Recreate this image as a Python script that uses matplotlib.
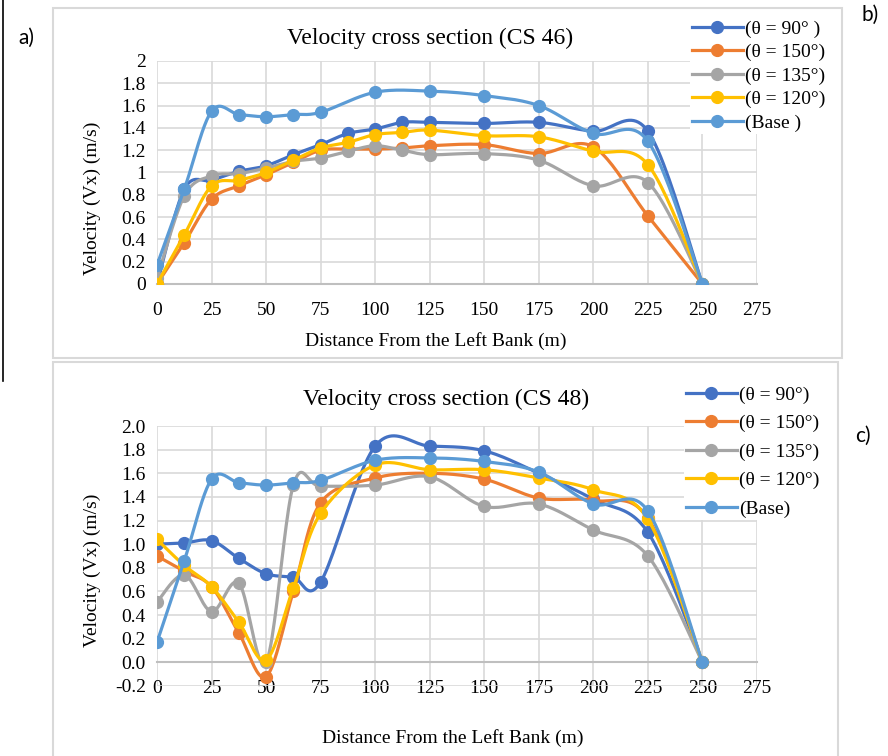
import numpy as np
import matplotlib
matplotlib.use("Agg")
import matplotlib.pyplot as plt
from matplotlib.patches import Rectangle
from matplotlib.lines import Line2D

# data
x_full = [0, 12.5, 25, 37.5, 50, 62.5, 75, 87.5, 100, 112.5, 125, 150, 175, 200, 225, 250]
x_base = [0, 12.5, 25, 37.5, 50, 62.5, 75, 100, 125, 150, 175, 200, 225, 250]

# CS 46
v90_46 = [0.0, 0.85, 0.93, 1.01, 1.06, 1.16, 1.25, 1.35, 1.39, 1.45, 1.45, 1.44, 1.45, 1.37, 1.37, 0.0]
v150_46 = [0.0, 0.37, 0.76, 0.88, 0.98, 1.09, 1.20, 1.21, 1.21, 1.22, 1.24, 1.25, 1.17, 1.23, 0.61, 0.0]
v135_46 = [0.05, 0.79, 0.97, 0.99, 1.04, 1.10, 1.13, 1.19, 1.24, 1.20, 1.16, 1.17, 1.11, 0.88, 0.91, 0.0]
v120_46 = [0.0, 0.44, 0.88, 0.93, 1.00, 1.11, 1.22, 1.27, 1.34, 1.36, 1.38, 1.33, 1.32, 1.19, 1.07, 0.0]
base_46 = [0.17, 0.85, 1.55, 1.52, 1.50, 1.52, 1.54, 1.72, 1.73, 1.69, 1.60, 1.35, 1.28, 0.0]

# CS 48
v90_48 = [1.00, 1.01, 1.03, 0.88, 0.75, 0.72, 0.68, 1.83, 1.83, 1.79, 1.60, 1.38, 1.10, 0.0]
v150_48 = [0.90, 0.77, 0.64, 0.25, -0.12, 0.60, 1.35, 1.56, 1.60, 1.55, 1.39, 1.37, 1.22, 0.0]
v135_48 = [0.51, 0.74, 0.43, 0.67, 0.0, 1.50, 1.49, 1.50, 1.57, 1.32, 1.34, 1.12, 0.90, 0.0]
v120_48 = [1.04, 0.82, 0.64, 0.34, 0.02, 0.63, 1.26, 1.67, 1.63, 1.63, 1.56, 1.46, 1.21, 0.0]
base_48 = [0.17, 0.86, 1.55, 1.52, 1.50, 1.52, 1.54, 1.71, 1.73, 1.70, 1.61, 1.34, 1.28, 0.0]

labels_46 = ["(θ = 90° )", "(θ = 150°)", "(θ = 135°)", "(θ = 120°)", "(Base )"]
labels_48 = ["(θ = 90°)", "(θ = 150°)", "(θ = 135°)", "(θ = 120°)", "(Base)"]
colors = ["#4472C4", "#ED7D31", "#A5A5A5", "#FFC000", "#5B9BD5"]

W, H = 888, 756
serif = ["Liberation Serif", "DejaVu Serif"]
plt.rcParams['font.family'] = serif


def smooth(x, y, sx, sy, n=24):
    # excel-like smoothed line (bezier through the points, in screen space)
    p = np.column_stack([np.asarray(x, float) * sx, np.asarray(y, float) * sy])
    ext = np.vstack([p[0], p, p[-1]])
    out = []
    t = np.linspace(0, 1, n)[:, None]
    for i in range(1, len(ext) - 2):
        p0, p1, p2, p3 = ext[i - 1], ext[i], ext[i + 1], ext[i + 2]
        c1 = p1 + (p2 - p0) / 6
        c2 = p2 - (p3 - p1) / 6
        seg = ((1 - t) ** 3) * p1 + 3 * ((1 - t) ** 2) * t * c1 + 3 * (1 - t) * t ** 2 * c2 + t ** 3 * p2
        out.append(seg if i == 1 else seg[1:])
    out = np.vstack(out)
    return out[:, 0] / sx, out[:, 1] / sy


def fig_rect(x0, y0, x1, y1):
    return [x0 / W, 1 - y1 / H, (x1 - x0) / W, (y1 - y0) / H]


fig = plt.figure(figsize=(W / 100, H / 100), dpi=100)

# panel frames
for (x0, y0, x1, y1) in [(53, 8, 842, 358), (53, 362, 838, 770)]:
    fig.patches.append(Rectangle((x0 / W, 1 - y1 / H), (x1 - x0) / W, (y1 - y0) / H,
                                 transform=fig.transFigure, fill=False,
                                 edgecolor="#D9D9D9", lw=1.5))
fig.lines.append(Line2D([3 / W, 3 / W], [1, 1 - 381 / H], transform=fig.transFigure,
                        color="black", lw=1.2))

panels = [
    dict(rect=fig_rect(157, 61, 757, 284), ylim=(0, 2), yticks=np.arange(0, 2.01, 0.2),
         fmt=lambda v: ("%g" % round(v, 1)), xs=[x_full, x_full, x_full, x_full, x_base],
         ys=[v90_46, v150_46, v135_46, v120_46, base_46], labels=labels_46,
         title="Velocity cross section (CS 46)", title_xy=(430, 38),
         xlabel_xy=(436, 341), ylabel_xy=(92, 198),
         leg_xy=(690, 18), leg_space=0.3),
    dict(rect=fig_rect(157, 426, 757, 686), ylim=(-0.2, 2.0), yticks=np.arange(-0.2, 2.01, 0.2),
         fmt=lambda v: "%.1f" % (round(v, 1) + 0.0), xs=[x_base] * 5,
         ys=[v90_48, v150_48, v135_48, v120_48, base_48], labels=labels_48,
         title="Velocity cross section (CS 48)", title_xy=(446, 399),
         xlabel_xy=(453, 738), ylabel_xy=(92, 570),
         leg_xy=(684, 384), leg_space=0.56),
]

for pn in panels:
    ax = fig.add_axes(pn["rect"])
    ax.set_xlim(0, 275)
    ax.set_ylim(*pn["ylim"])
    bbox = ax.get_position()
    sx = bbox.width * W / 275
    sy = bbox.height * H / (pn["ylim"][1] - pn["ylim"][0])
    for xv, yv, c, lab in zip(pn["xs"], pn["ys"], colors, pn["labels"]):
        xsm, ysm = smooth(xv, yv, sx, sy)
        ax.plot(xsm, ysm, color=c, lw=2.3, solid_capstyle="round", zorder=3)
        ax.plot(xv, yv, "o", color=c, ms=8.5, zorder=3)
        ax.plot([], [], "-o", color=c, lw=2.3, ms=8.5, label=lab)
    ax.set_xticks(np.arange(0, 276, 25))
    ax.set_yticks(pn["yticks"])
    ax.set_yticklabels([pn["fmt"](v) for v in pn["yticks"]])
    ax.grid(True, color="#D9D9D9", lw=1.2, zorder=0)
    ax.set_axisbelow(True)
    for s in ["top", "right", "left"]:
        ax.spines[s].set_visible(False)
    ax.spines["bottom"].set_position(("data", 0))
    ax.spines["bottom"].set_color("#BFBFBF")
    ax.spines["bottom"].set_linewidth(1.5)
    ax.tick_params(length=0, labelsize=14, pad=8)
    ax.tick_params(axis="x", pad=13)

    fig.text(pn["title_xy"][0] / W, 1 - pn["title_xy"][1] / H, pn["title"],
             ha="center", va="center", fontsize=17)
    fig.text(pn["xlabel_xy"][0] / W, 1 - pn["xlabel_xy"][1] / H,
             "Distance From the Left Bank (m)", ha="center", va="center", fontsize=14)
    fig.text(pn["ylabel_xy"][0] / W, 1 - pn["ylabel_xy"][1] / H,
             "Velocity (Vx) (m/s)", ha="center", va="center", fontsize=14, rotation=90)

    leg = ax.legend(loc="upper left",
                    bbox_to_anchor=(pn["leg_xy"][0] / W, 1 - pn["leg_xy"][1] / H),
                    bbox_transform=fig.transFigure, fontsize=14, frameon=True,
                    handlelength=2.6, handletextpad=0.15, labelspacing=pn["leg_space"],
                    borderpad=0.1, borderaxespad=0)
    leg.get_frame().set_facecolor("white")
    leg.get_frame().set_edgecolor("none")
    leg.get_frame().set_alpha(1)
    leg.set_zorder(10)

# panel letters
for txt, (px, py) in [("a)", (26, 38)), ("b)", (870, 15)), ("c)", (863, 436))]:
    fig.text(px / W, 1 - py / H, txt, ha="center", va="center", fontsize=15,
             family=["Lato", "DejaVu Sans"])

fig.savefig("out.png", dpi=100)
